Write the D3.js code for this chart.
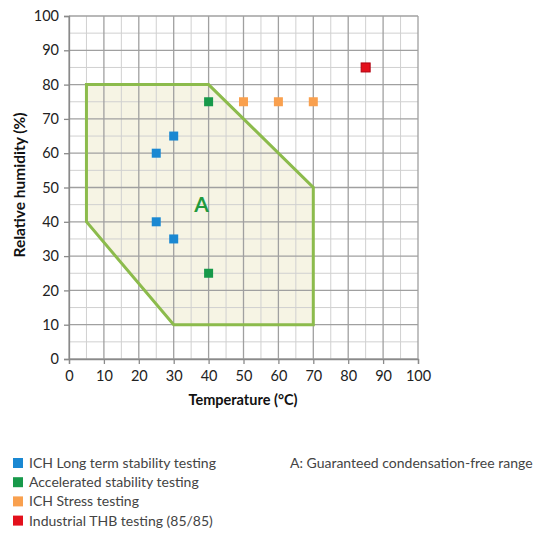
<!DOCTYPE html>
<html><head><meta charset="utf-8">
<script src="https://cdn.jsdelivr.net/npm/d3@7"></script>
<style>html,body{margin:0;padding:0;background:#fff;}svg{display:block;}</style>
</head><body>
<script>
const xTicks = [0,10,20,30,40,50,60,70,80,90,100];
const yTicks = [0,10,20,30,40,50,60,70,80,90,100];
const regionA = [[5,80],[40,80],[70,50],[70,10],[30,10],[5,40]];
const seriesNames = ["ICH Long term stability testing","Accelerated stability testing","ICH Stress testing","Industrial THB testing (85/85)"];
const seriesColors = ["#1a88d2","#17994a","#f9a04e","#e3101c"];
const blueT = [25,30,25,30], blueH = [60,65,40,35];
const greenT = [40,40], greenH = [75,25];
const orangeT = [50,60,70], orangeH = [75,75,75];
const redT = [85], redH = [85];
const regionLabel = "A";
const regionNote = "A: Guaranteed condensation-free range";

const W=535,H=535;
const svg=d3.select("body").append("svg").attr("width",W).attr("height",H);
const x=d3.scaleLinear().domain([0,100]).range([69,418]);
const y=d3.scaleLinear().domain([0,100]).range([359,16]);
const font="Lato, 'Open Sans', sans-serif";

const minor=d3.range(5,100,10);
// region fill
const line=d3.line().x(d=>x(d[0])).y(d=>y(d[1]));
svg.append("path").attr("d",line(regionA)+"Z").attr("fill","#f6f4e4");
// grid
const g2=svg.append("g");
g2.selectAll(".mx").data(minor).join("line").attr("x1",d=>x(d)).attr("x2",d=>x(d)).attr("y1",y(0)).attr("y2",y(100)).attr("stroke","#d0d0d0").attr("stroke-width",1);
g2.selectAll(".my").data(minor).join("line").attr("y1",d=>y(d)).attr("y2",d=>y(d)).attr("x1",x(0)).attr("x2",x(100)).attr("stroke","#d0d0d0").attr("stroke-width",1);
g2.selectAll(".Mx").data(xTicks).join("line").attr("x1",d=>x(d)).attr("x2",d=>x(d)).attr("y1",y(0)).attr("y2",y(100)).attr("stroke","#a0a0a0").attr("stroke-width",1.3);
g2.selectAll(".My").data(yTicks).join("line").attr("y1",d=>y(d)).attr("y2",d=>y(d)).attr("x1",x(0)).attr("x2",x(100)).attr("stroke","#a0a0a0").attr("stroke-width",1.3);

// axes
const xa=svg.append("g").attr("transform",`translate(0,${y(0)})`).call(d3.axisBottom(x).tickValues(xTicks).tickSize(5).tickPadding(7));
const ya=svg.append("g").attr("transform",`translate(${x(0)},0)`).call(d3.axisLeft(y).tickValues(yTicks).tickSize(5).tickPadding(5));
[xa,ya].forEach(a=>{
  a.select(".domain").attr("stroke","#8a8a8a").attr("stroke-width",1.3);
  a.selectAll(".tick line").attr("stroke","#8a8a8a").attr("stroke-width",1.3);
  a.selectAll("text").attr("font-family",font).attr("font-size",14.5).attr("fill","#222");
});

// region outline
svg.append("path").attr("d",line(regionA)+"Z").attr("fill","none").attr("stroke","#8cbb4c").attr("stroke-width",3).attr("stroke-linejoin","miter");

svg.append("text").attr("x",x(38)).attr("y",y(43)).attr("text-anchor","middle").attr("font-family",font).attr("font-weight","bold").attr("font-size",21).attr("fill","#219a3e").text(regionLabel);

// points
const series=[[blueT,blueH],[greenT,greenH],[orangeT,orangeH],[redT,redH]];
series.forEach((s,i)=>{
  const pts=s[0].map((t,j)=>[t,s[1][j]]);
  svg.selectAll(null).data(pts).join("rect")
    .attr("x",d=>x(d[0])-4.5).attr("y",d=>y(d[1])-4.5).attr("width",9).attr("height",9)
    .attr("fill",seriesColors[i])
    .attr("stroke",i===3?"#b00010":"none").attr("stroke-width",1);
});

// axis titles
svg.append("text").attr("x",243).attr("y",405).attr("text-anchor","middle").attr("font-family",font).attr("font-weight","bold").attr("font-size",14.5).attr("fill","#111").text("Temperature (°C)");
svg.append("text").attr("transform","translate(25,185) rotate(-90)").attr("text-anchor","middle").attr("font-family",font).attr("font-weight","bold").attr("font-size",15.5).attr("fill","#111").text("Relative humidity (%)");

// legend
const lg=svg.append("g");
seriesNames.forEach((n,i)=>{
  const yy=468+i*19.2;
  lg.append("rect").attr("x",13).attr("y",yy-10).attr("width",10).attr("height",10).attr("fill",seriesColors[i]);
  lg.append("text").attr("x",29).attr("y",yy).attr("font-family",font).attr("font-size",14).attr("fill","#444").text(n);
});
lg.append("text").attr("x",290).attr("y",468).attr("font-family",font).attr("font-size",14).attr("fill","#444").text(regionNote);
</script>
</body></html>
